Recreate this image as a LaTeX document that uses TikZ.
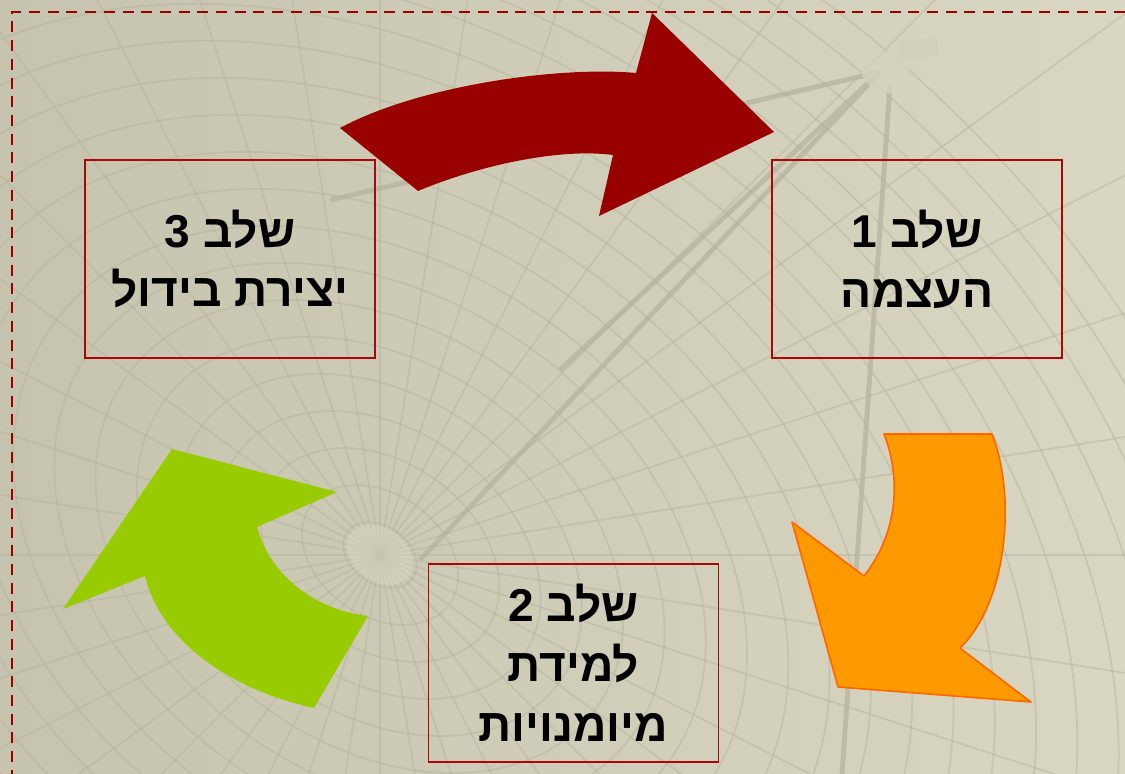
\documentclass[tikz,border=0pt]{standalone}
\usepackage{fontspec}
\newfontfamily\hebfont[Script=Hebrew]{Liberation Sans}
\TeXXeTstate=1
\definecolor{bgdark}{RGB}{198,196,174}
\definecolor{bglight}{RGB}{217,215,194}
\definecolor{gridline}{RGB}{180,178,156}
\definecolor{darkred}{RGB}{153,0,0}
\definecolor{boxred}{RGB}{168,8,8}
\definecolor{arroworange}{RGB}{255,153,0}
\definecolor{orangeedge}{RGB}{255,102,0}
\definecolor{arrowgreen}{RGB}{153,204,0}
\begin{document}
\begin{tikzpicture}[x=0.01cm,y=-0.01cm,
  stagebox/.style={draw=boxred,line width=0.45pt,minimum width=2.9cm,minimum height=1.98cm,
    align=center,font=\hebfont\bfseries\fontsize{13.1}{17}\selectfont},
  dishline/.style={gridline,line width=0.5pt,opacity=0.45}]
\useasboundingbox (0,0) rectangle (1125,774);
\clip (0,0) rectangle (1125,774);
\shade[left color=bgdark,right color=bglight] (0,0) rectangle (1125,774);

\foreach \r in {40,85,...,1000}
  \draw[dishline,rotate around={-35:(380,555)}] (380,555) ellipse ({\r} and {0.72*\r});
\foreach \a in {0,9,...,351}
  \draw[dishline] (380,555) -- ++(\a:1500);
\fill[bglight,opacity=0.5,rotate around={-35:(380,555)}] (380,555) ellipse (36 and 26);

\draw[gridline,line width=1.4pt,opacity=0.7] (880,72)--(330,200) (880,72)--(560,370) (880,72)--(420,560) (890,85)--(842,774);
\fill[bglight!90!gridline,opacity=0.8,rotate around={-30:(885,72)}] (885,72) ellipse (26 and 20);
\fill[bglight!80!gridline,opacity=0.8,rotate around={-40:(920,40)}] (905,55)--(932,28)--(945,40)--(918,67)--cycle;

\draw[darkred,line width=0.6pt,dash pattern=on 0.11cm off 0.077cm] (1200,12)--(12,12)--(12,850);

\node[stagebox] (stage1) at (917,259) {\beginR שלב 1\endR\\\beginR העצמה\endR};
\node[stagebox] (stage3) at (230,259) {\beginR שלב 3\endR\\\beginR יצירת בידול\endR};
\node[stagebox] (stage2) at (573.5,663) {\beginR שלב 2\endR\\\beginR למידת\endR\\\beginR מיומנויות\endR};

\fill[darkred] (340,128)--(418,191) .. controls (480,165) and (560,148) .. (613,155)--(599,216)--(774,132)--(652,13)--(636,73) .. controls (560,66) and (420,85) .. (340,128)--cycle;

\filldraw[fill=arroworange,draw=orangeedge,line width=0.45pt,line join=round] (884,434)--(992,434) .. controls (1015,490) and (1010,600) .. (960,648)--(1031,702)--(838,687)--(792,522)--(864,576) .. controls (900,530) and (900,475) .. (884,434)--cycle;

\fill[arrowgreen] (172,449)--(337,492)--(257,527) .. controls (270,575) and (315,610) .. (368,616)--(314,708) .. controls (230,690) and (160,640) .. (145,576)--(63,609)--cycle;

\end{tikzpicture}
\end{document}
